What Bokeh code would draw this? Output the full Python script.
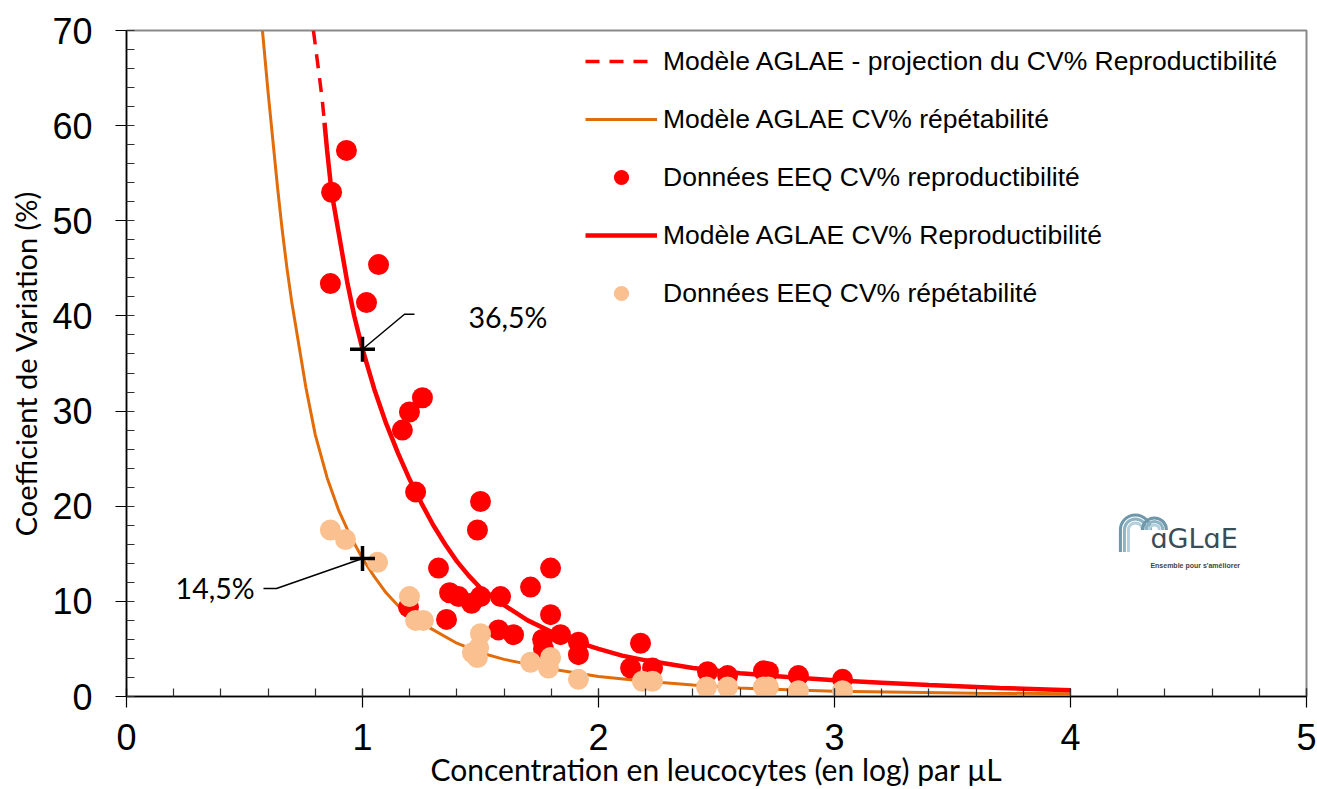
from math import pi
from bokeh.plotting import figure
from bokeh.models import Range1d, Legend, LegendItem, Label, SingleIntervalTicker
from bokeh.embed import file_html
from bokeh.resources import INLINE
from bokeh.core.properties import value

# ---------------- data ----------------
# EEQ data, reproducibility CV% (red dots)
repro_x = [0.932, 0.869, 0.864, 1.068, 1.017, 1.254, 1.199, 1.169, 1.225, 1.500,
           1.487, 1.322, 1.797, 1.712, 1.369, 1.407, 1.462, 1.500, 1.585, 1.195,
           1.356, 1.797, 1.576, 1.640, 1.839, 1.763, 1.767, 1.915, 1.915, 2.178,
           2.136, 2.229, 2.462, 2.547, 2.699, 2.720, 2.847, 3.034]
repro_cv = [57.4, 53.0, 43.4, 45.4, 41.4, 31.4, 29.9, 28.0, 21.5, 20.5,
            17.5, 13.5, 13.5, 11.5, 10.9, 10.5, 9.8, 10.5, 10.5, 9.4,
            8.1, 8.6, 7.0, 6.5, 6.5, 6.0, 5.0, 5.7, 4.4, 5.6,
            3.0, 3.0, 2.6, 2.2, 2.7, 2.6, 2.2, 1.8]

# EEQ data, repeatability CV% (peach dots)
repet_x = [0.864, 0.928, 1.064, 1.199, 1.225, 1.258, 1.500, 1.492, 1.466, 1.487,
           1.712, 1.797, 1.788, 1.915, 2.186, 2.229, 2.458, 2.547, 2.699, 2.720,
           2.847, 3.034]
repet_cv = [17.5, 16.5, 14.1, 10.5, 8.0, 8.0, 6.6, 5.1, 4.6, 4.1,
            3.6, 4.1, 3.0, 1.8, 1.6, 1.6, 1.0, 1.0, 1.0, 1.0,
            0.6, 0.6]

# AGLAE model, reproducibility: projected (dashed) part and fitted (solid) part
proj_x = [0.792, 0.815, 0.829, 0.839]
proj_cv = [70.0, 65.6, 62.8, 60.3]
model_repro_x = [0.839, 0.850, 0.869, 0.900, 0.935, 0.965, 1.000, 1.050, 1.100, 1.150,
                 1.200, 1.250, 1.300, 1.350, 1.400, 1.450, 1.500, 1.600, 1.700, 1.800,
                 1.900, 2.000, 2.100, 2.200, 2.400, 2.600, 2.800, 3.000, 3.200, 3.400,
                 3.700, 4.000]
model_repro_cv = [60.3, 57.4, 53.0, 48.6, 43.6, 40.0, 36.5, 32.3, 28.7, 25.6,
                  22.8, 20.3, 18.0, 16.0, 14.2, 12.7, 11.4, 9.6, 8.0, 6.8,
                  5.8, 5.0, 4.3, 3.8, 3.0, 2.45, 2.05, 1.7, 1.45, 1.2,
                  0.9, 0.65]

# AGLAE model, repeatability
model_repet_x = [0.576, 0.600, 0.620, 0.640, 0.660, 0.680, 0.700, 0.730, 0.760, 0.800,
                 0.850, 0.900, 0.950, 1.000, 1.050, 1.100, 1.160, 1.230, 1.300, 1.400,
                 1.500, 1.600, 1.700, 1.800, 1.900, 2.000, 2.200, 2.400, 2.600, 2.800,
                 3.000, 3.300, 3.600, 4.000]
model_repet_cv = [70.0, 63.5, 58.5, 53.5, 49.0, 45.0, 41.5, 37.0, 32.5, 27.5,
                  23.0, 19.5, 16.8, 14.5, 12.6, 10.9, 9.3, 8.0, 7.0, 5.6,
                  4.6, 3.9, 3.4, 2.9, 2.5, 2.1, 1.6, 1.2, 0.9, 0.7,
                  0.55, 0.45, 0.35, 0.3]

# highlighted model values at log concentration = 1
mark_x = [1.0, 1.0]
mark_cv = [36.5, 14.5]
mark_labels = ["36,5%", "14,5%"]

legend_labels = [
    "Modèle AGLAE - projection du CV% Reproductibilité",
    "Modèle AGLAE CV% répétabilité",
    "Données EEQ CV% reproductibilité",
    "Modèle AGLAE CV% Reproductibilité",
    "Données EEQ CV% répétabilité",
]

x_label = "Concentration en leucocytes (en log) par µL"
y_label = "Coefficient de Variation (%)"

# ---------------- styles / layout ----------------
RED = "#FF0000"
ORANGE = "#E36C0A"
PEACH = "#FAC090"
W, H = 1317, 789
FL, FR, FT, FB = 126, 11, 30, 92
XMAX, YMAX = 5, 70
PX_X = (W - FL - FR) / XMAX
PX_Y = (H - FT - FB) / YMAX

p = figure(width=W, height=H, x_range=Range1d(0, XMAX), y_range=Range1d(0, YMAX),
           output_backend="svg", toolbar_location=None,
           min_border_left=FL, min_border_right=FR, min_border_top=FT, min_border_bottom=FB)
p.background_fill_color = "white"
p.border_fill_color = "white"
p.xgrid.visible = False
p.ygrid.visible = False
p.outline_line_color = "#898989"
p.outline_line_width = 2

p.xaxis.ticker = SingleIntervalTicker(interval=1, num_minor_ticks=5)
p.yaxis.ticker = SingleIntervalTicker(interval=10, num_minor_ticks=5)
for ax in (p.xaxis[0], p.yaxis[0]):
    ax.axis_line_color = "black"
    ax.axis_line_width = 1.5
    ax.major_tick_line_color = "black"
    ax.minor_tick_line_color = "#303030"
    ax.major_tick_line_width = 1.2
    ax.minor_tick_line_width = 1.2
    ax.major_tick_out = 11
    ax.minor_tick_in = 8
    ax.minor_tick_out = 0
    ax.major_label_text_font = "Liberation Sans"
    ax.major_label_text_font_size = "36px"
    ax.major_label_text_color = "black"
    ax.axis_label_text_font = "Lato"
    ax.axis_label_text_font_style = "normal"
    ax.axis_label_text_color = "black"
p.xaxis.major_tick_in = 8
p.yaxis.major_tick_in = 0
p.xaxis.major_label_standoff = 16
p.yaxis.major_label_standoff = 23
p.xaxis.axis_label = x_label
p.yaxis.axis_label = y_label
p.xaxis.axis_label_text_font_size = "30px"
p.yaxis.axis_label_text_font_size = "29px"
p.xaxis.axis_label_standoff = -2
p.yaxis.axis_label_standoff = 6

# ---------------- glyphs ----------------
r_repet_line = p.line(model_repet_x, model_repet_cv, line_color=ORANGE, line_width=3)
r_proj = p.line(proj_x, proj_cv, line_color=RED, line_width=3.5, line_dash="14 10")
r_repro_line = p.line(model_repro_x, model_repro_cv, line_color=RED, line_width=4.5)
r_repro_dots = p.scatter(repro_x, repro_cv, size=21, fill_color=RED, line_color=None)
r_repet_dots = p.scatter(repet_x, repet_cv, size=21, fill_color=PEACH, line_color=None)

# callouts
p.line([mark_x[0], mark_x[0] + 42 / PX_X, mark_x[0] + 52 / PX_X],
       [mark_cv[0], mark_cv[0] + 35 / PX_Y, mark_cv[0] + 35 / PX_Y],
       line_color="black", line_width=1.5)
p.line([mark_x[1], mark_x[1] - 86 / PX_X, mark_x[1] - 99 / PX_X],
       [mark_cv[1], mark_cv[1] - 30 / PX_Y, mark_cv[1] - 30 / PX_Y],
       line_color="black", line_width=1.5)
p.scatter(mark_x, mark_cv, marker="cross", size=25, line_color="black", line_width=3.5)
p.text(x=[mark_x[0] + 106 / PX_X], y=[mark_cv[0] + 32 / PX_Y], text=[mark_labels[0]],
       text_font=value("Lato"), text_font_size="28.5px", text_color="black",
       text_align="left", text_baseline="middle")
p.text(x=[mark_x[1] - 108 / PX_X], y=[mark_cv[1] - 30 / PX_Y], text=[mark_labels[1]],
       text_font=value("Lato"), text_font_size="28.5px", text_color="black",
       text_align="right", text_baseline="middle")

# ---------------- AGLAE logo ----------------
LOGO_X, LOGO_Y = 4.203, 15.2   # data position of logo's lower-left corner
def lx(px):
    return LOGO_X + px / PX_X
def ly(px):
    return LOGO_Y + px / PX_Y
arch_cols = ["#6F97AA", "#8DB3C4", "#B4D0DC"]
for i, r in enumerate([15, 11, 7]):
    p.arc(x=[lx(17)], y=[ly(22)], radius=r, radius_units="screen",
          start_angle=0, end_angle=pi, line_color=arch_cols[i], line_width=3)
for i, r in enumerate([12, 8.5, 5]):
    p.arc(x=[lx(36)], y=[ly(22)], radius=r, radius_units="screen",
          start_angle=0, end_angle=pi, line_color=arch_cols[i], line_width=3)
p.segment(x0=[lx(2), lx(6), lx(10)], y0=[ly(22)] * 3, x1=[lx(2), lx(6), lx(10)],
          y1=[ly(0), ly(0), ly(0)], line_color=arch_cols, line_width=3)
p.add_layout(Label(x=lx(32), y=ly(-2), text="ɑGLɑE", text_font="DejaVu Sans",
                   text_font_size="27px", text_color="#3B4C57"))
p.add_layout(Label(x=lx(32), y=ly(-17), text="Ensemble pour s'améliorer",
                   text_font="Liberation Sans", text_font_size="7px",
                   text_font_style="bold", text_color="#444444"))

# ---------------- legend ----------------
legend = Legend(items=[
    LegendItem(label=legend_labels[0], renderers=[r_proj]),
    LegendItem(label=legend_labels[1], renderers=[r_repet_line]),
    LegendItem(label=legend_labels[2], renderers=[r_repro_dots]),
    LegendItem(label=legend_labels[3], renderers=[r_repro_line]),
    LegendItem(label=legend_labels[4], renderers=[r_repet_dots]),
], location=(459, 384))
legend.glyph_width = 72
legend.glyph_height = 38
legend.label_height = 38
legend.spacing = 20
legend.padding = 0
legend.margin = 0
legend.label_standoff = 6
legend.border_line_color = None
legend.background_fill_alpha = 0
legend.label_text_font = "Liberation Sans"
legend.label_text_font_size = "26.5px"
legend.label_text_color = "black"
p.add_layout(legend)

open("out.html", "w").write(file_html(p, INLINE))
